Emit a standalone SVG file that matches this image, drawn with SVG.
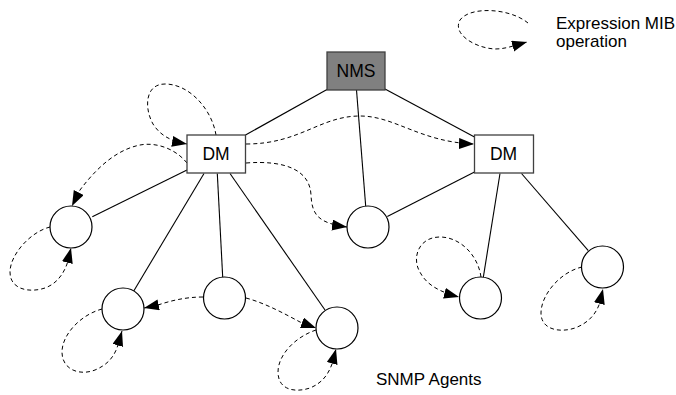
<svg xmlns="http://www.w3.org/2000/svg" width="676" height="395" viewBox="0 0 676 395">
<defs>
<marker id="arr" markerUnits="userSpaceOnUse" markerWidth="16" markerHeight="12" refX="15" refY="5.5" orient="auto">
<path d="M0,0 L15,5.5 L0,11 z" fill="#000"/>
</marker>
<style>
.box{stroke:#404040;stroke-width:1.3}
.dm{fill:#fff}
.nms{fill:#808080}
.agent{fill:#fff;stroke:#000;stroke-width:1.2}
.link{stroke:#000;stroke-width:1.1;fill:none}
.op{stroke:#000;stroke-width:1;fill:none;stroke-dasharray:4 3;marker-end:url(#arr)}
text{font-family:"Liberation Sans",Arial,sans-serif;fill:#000}
.lbl{font-size:17.5px;text-anchor:middle}
.note{font-size:17px}
</style>
</defs>
<rect width="676" height="395" fill="#fff"/>
<g id="connectors">
<line class="link" x1="327" y1="89.5" x2="245.5" y2="135"/>
<line class="link" x1="385" y1="89" x2="474.5" y2="137"/>
<line class="link" x1="356.5" y1="90" x2="365.7" y2="206"/>
<line class="link" x1="474.5" y1="172" x2="387.3" y2="216.5"/>
<line class="link" x1="500" y1="173.5" x2="483.3" y2="277.3"/>
<line class="link" x1="521.5" y1="173.5" x2="588.3" y2="250.7"/>
<line class="link" x1="187" y1="170" x2="92.3" y2="216.7"/>
<line class="link" x1="204" y1="173.5" x2="133.3" y2="291.7"/>
<line class="link" x1="217.3" y1="173.5" x2="222.7" y2="277"/>
<line class="link" x1="230" y1="173.5" x2="325" y2="310"/>
<path class="op" d="M216,135 C212,110 190,84 165,84 C145,84 144,108 153,124 C160,135 170,141 187,144"/>
<path class="op" d="M187,163 C175,148 155,142 140,145 C115,150 95,170 80,190 L72,206"/>
<path class="op" d="M50,227 C30,232 10,255 10,272 C10,290 30,293 45,288 C56,284 63,275 67,264 L71,248"/>
<path class="op" d="M203,297 C185,297 170,301 158,305 L144,308"/>
<path class="op" d="M246,298 C265,303 285,314 300,322 L316,328"/>
<path class="op" d="M102,309 C80,315 62,335 62,352 C62,370 80,376 95,370 C107,365 113,358 117,348 L122,331"/>
<path class="op" d="M316,330 C295,337 278,355 278,372 C278,390 295,393 310,388 C322,383 328,375 332,364 L336,349"/>
<path class="op" d="M246,144 C300,144 320,116 360,116 C395,116 420,142 474,144"/>
<path class="op" d="M246,163 C285,160 310,170 311,195 C312,215 318,223 347,227"/>
<path class="op" d="M481,277 C478,255 460,237 440,237 C420,237 413,255 418,268 C423,280 432,290 459,297"/>
<path class="op" d="M582,267 C560,272 541,295 541,313 C541,330 560,333 575,328 C588,323 595,315 599,305 L603,289"/>
<path class="op" d="M528,23 C510,8 470,6 460,20 C452,34 475,48 495,49 C505,49 513,46 527,42"/>
</g>
<g id="nms">
<rect class="box nms" x="327" y="52" width="58" height="38"/>
<text class="lbl" x="356" y="77">NMS</text>
</g>
<g id="dm-left">
<rect class="box dm" x="187" y="135" width="58.5" height="38"/>
<text class="lbl" x="216" y="159.5">DM</text>
</g>
<g id="dm-right">
<rect class="box dm" x="474.5" y="135" width="59" height="38"/>
<text class="lbl" x="503.5" y="159.5">DM</text>
</g>
<g id="agent1"><circle class="agent" cx="71" cy="227" r="21"/></g>
<g id="agent2"><circle class="agent" cx="123" cy="309" r="21"/></g>
<g id="agent3"><circle class="agent" cx="224.5" cy="298" r="21"/></g>
<g id="agent4"><circle class="agent" cx="337" cy="328" r="21"/></g>
<g id="agent5"><circle class="agent" cx="368" cy="227" r="21"/></g>
<g id="agent6"><circle class="agent" cx="480.5" cy="298" r="21"/></g>
<g id="agent7"><circle class="agent" cx="602.5" cy="267" r="21"/></g>
<g id="labels">
<text class="note" x="556" y="29">Expression MIB</text>
<text class="note" x="556" y="47">operation</text>
<text class="note" x="376" y="385">SNMP Agents</text>
</g>
</svg>
